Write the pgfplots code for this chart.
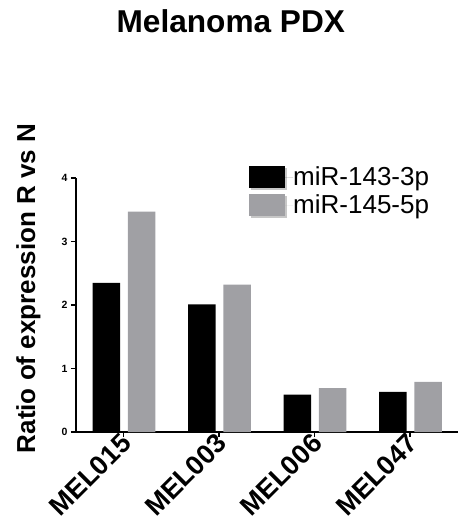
\documentclass[border=0pt]{standalone}
\usepackage{fontspec}
\setmainfont{Liberation Sans}
\usepackage{pgfplots}
\pgfplotsset{compat=1.18}
\definecolor{bargray}{RGB}{160,160,164}
\begin{document}
\begin{tikzpicture}[x=1pt,y=1pt]
\useasboundingbox (-76,-93) rectangle (391,432);
\begin{axis}[
  at={(0,0)}, anchor=south west,
  scale only axis, width=382pt, height=254pt,
  xmin=-0.5, xmax=3.5, ymin=0, ymax=4,
  axis lines*=left,
  axis line style={line width=1.5pt},
  tick style={line width=1.5pt, black},
  tick align=outside,
  major tick length=5pt,
  ytick={0,1,2,3,4},
  xtick={0,1,2,3},
  xticklabels={MEL015,MEL003,MEL006,MEL047},
  yticklabel style={font=\bfseries\fontsize{10.5}{10.5}\selectfont},
  /pgf/number format/assume math mode=true,
  xticklabel style={font=\bfseries\fontsize{27}{27}\selectfont, rotate=45, anchor=east, xshift=4pt, yshift=-3pt},
  ylabel={\bfseries Ratio of expression R vs N},
  ylabel style={font=\fontsize{26}{26}\selectfont, at={(axis description cs:-0.107,0.565)}, anchor=base, rotate=0},
  ybar, bar width=27.5pt,
  legend style={draw=none, fill=none, at={(axis description cs:0.453,1.047)}, anchor=north west,
    font=\fontsize{26}{26}\selectfont, row sep=4pt, inner sep=0pt, nodes={inner sep=0pt}},
  legend cell align=left,
  legend image code/.code={\fill[black!22] (1.5pt,-13pt) rectangle (37.5pt,9pt);
     \fill[#1] (0pt,-11pt) rectangle (36pt,11pt); \path (0pt,0pt) -- (44pt,0pt);},
  clip=false,
]
\addplot[fill=black, draw=none, bar shift=-17.3pt] coordinates {(0,2.35) (1,2.01) (2,0.59) (3,0.63)};
\addplot[fill=bargray, draw=none, bar shift=18pt] coordinates {(0,3.47) (1,2.32) (2,0.69) (3,0.79)};
\legend{miR-143-3p,miR-145-5p}
\end{axis}
\node[anchor=base, font=\bfseries\fontsize{31.6}{31.6}\selectfont] at (154.8,399) {Melanoma PDX};
\end{tikzpicture}
\end{document}
